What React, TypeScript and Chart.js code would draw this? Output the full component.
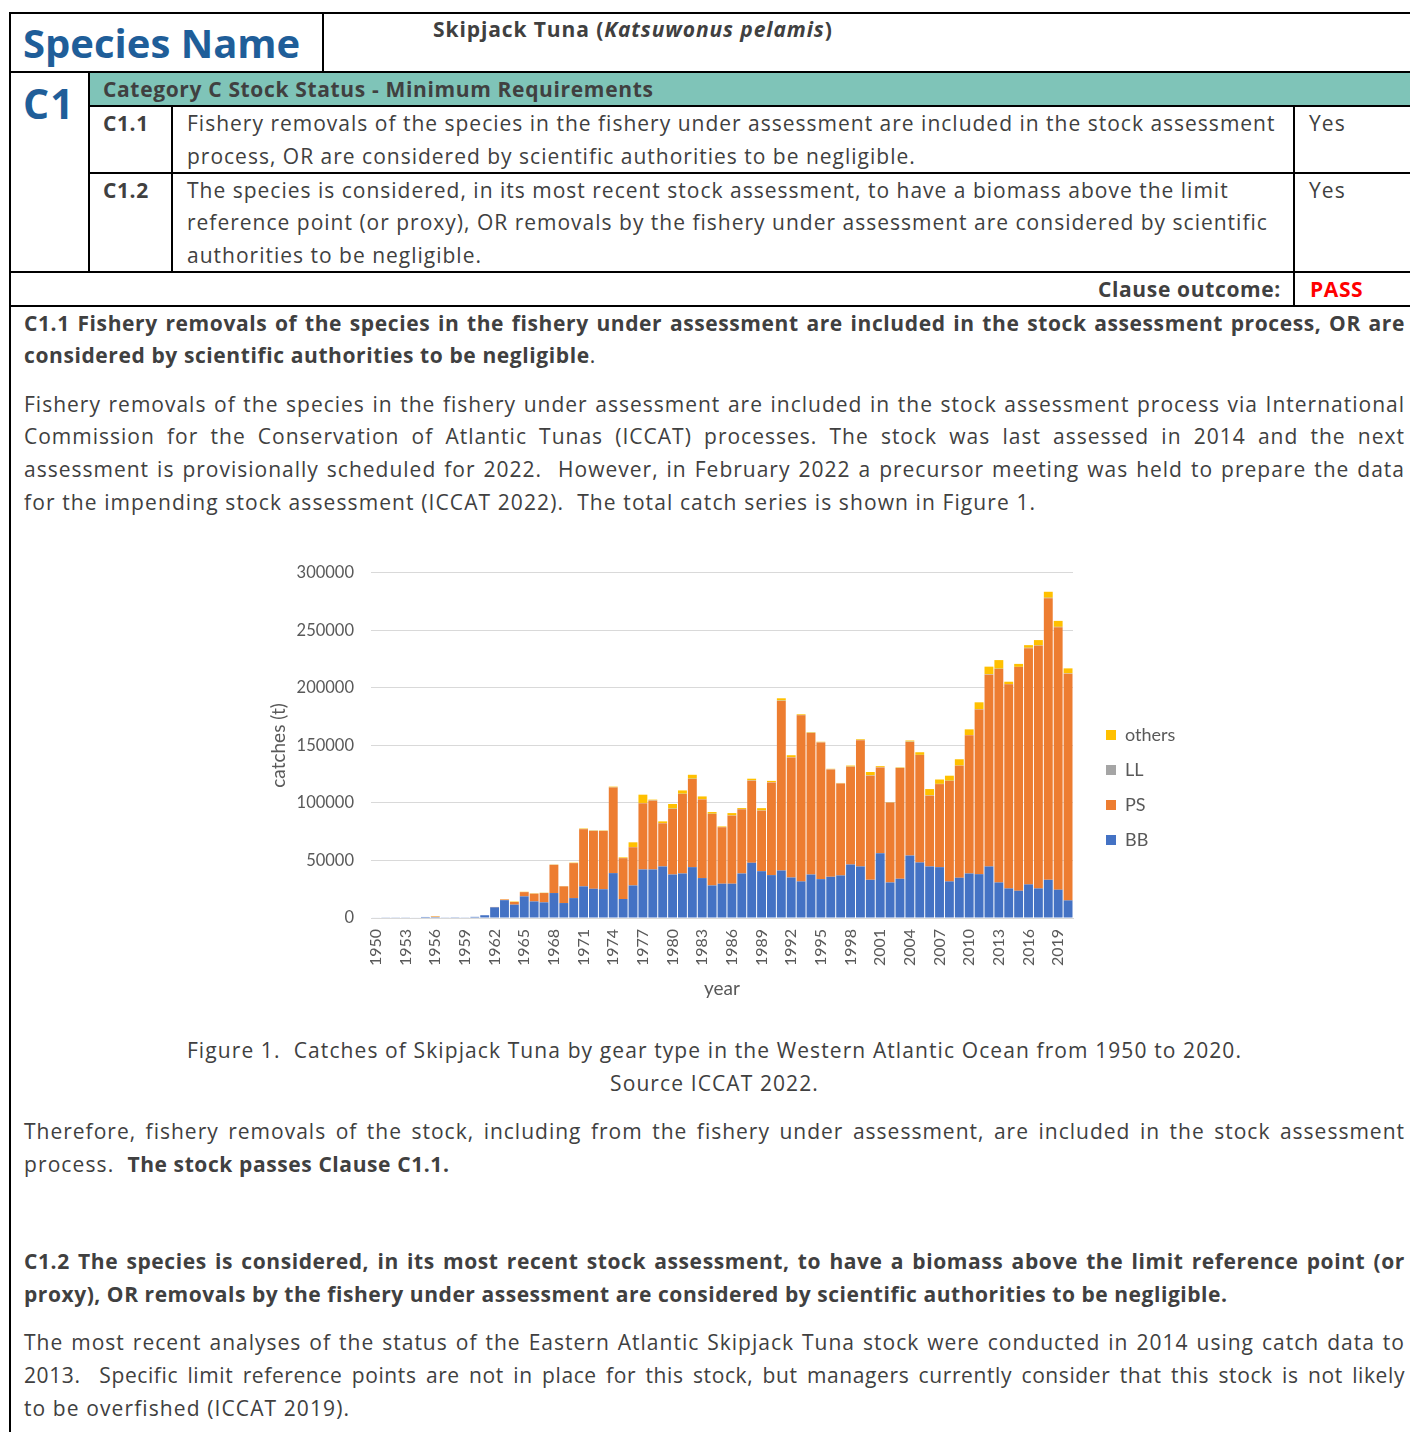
import React, { useEffect, useRef } from "react";
import { Chart, registerables } from "chart.js";

Chart.register(...registerables);

// ---------- chart data (tonnes) ----------
const years = [
  "1950","1951","1952","1953","1954","1955","1956","1957","1958","1959",
  "1960","1961","1962","1963","1964","1965","1966","1967","1968","1969",
  "1970","1971","1972","1973","1974","1975","1976","1977","1978","1979",
  "1980","1981","1982","1983","1984","1985","1986","1987","1988","1989",
  "1990","1991","1992","1993","1994","1995","1996","1997","1998","1999",
  "2000","2001","2002","2003","2004","2005","2006","2007","2008","2009",
  "2010","2011","2012","2013","2014","2015","2016","2017","2018","2019",
  "2020",
];

const bbCatch = [
  400, 300, 300, 300, 400, 900, 800, 300, 200, 300,
  1000, 2400, 9300, 15500, 11600, 18800, 14400, 13600, 21700, 13000,
  17300, 27500, 25400, 25000, 39000, 16500, 28300, 42200, 42200, 44800,
  37800, 38700, 44200, 34700, 28300, 29800, 29800, 38700, 48000, 40700,
  37300, 41300, 35200, 31800, 37800, 33800, 35800, 37000, 46500, 44800,
  33200, 56300, 30900, 34100, 54300, 48300, 44800, 44200, 31800, 35000,
  38700, 38100, 44800, 30900, 25700, 23700, 29200, 25700, 33200, 24600,
  15300,
];

const psCatch = [
  0, 0, 0, 0, 0, 0, 400, 0, 0, 0,
  0, 0, 300, 600, 2300, 3700, 6700, 8100, 24500, 14500,
  30400, 49700, 50300, 50700, 74400, 35500, 33200, 57500, 59800, 37500,
  57000, 69100, 76600, 68400, 62100, 49100, 59200, 55800, 71300, 52600,
  80600, 147400, 104400, 144400, 123100, 118800, 93400, 80000, 85000, 109800,
  90500, 74600, 69400, 96200, 98800, 93300, 61500, 72200, 87200, 97300,
  120200, 143100, 166700, 185500, 177400, 194400, 205400, 210900, 244800, 228200,
  197100,
];

const llCatch = [
  0, 0, 0, 0, 0, 0, 0, 0, 0, 0,
  0, 0, 0, 0, 0, 100, 100, 100, 100, 100,
  100, 200, 200, 100, 200, 100, 200, 300, 300, 200,
  300, 200, 300, 200, 200, 100, 200, 300, 300, 200,
  200, 300, 200, 300, 200, 200, 200, 100, 200, 200,
  300, 200, 200, 200, 300, 200, 300, 200, 300, 200,
  200, 300, 400, 300, 300, 200, 300, 300, 400, 300,
  300,
];

const otherCatch = [
  0, 0, 0, 0, 0, 0, 300, 0, 0, 0,
  0, 0, 0, 200, 400, 200, 300, 200, 200, 200,
  300, 400, 300, 300, 600, 600, 4100, 7200, 600, 1500,
  4000, 2900, 3400, 2400, 1500, 600, 2000, 800, 1500, 2000,
  1100, 2000, 1700, 600, 500, 400, 300, 300, 800, 600,
  2900, 900, 300, 400, 900, 2300, 5500, 3800, 4400, 5500,
  4900, 6000, 6600, 7500, 2000, 2600, 2300, 4700, 5200, 5200,
  4300,
];

const seriesNames = ["BB", "PS", "LL", "others"];
const seriesColors = ["#4472C4", "#ED7D31", "#A5A5A5", "#FFC000"];
const yMax = 300000;
const yStep = 50000;

const CHART_FONT = "Lato, 'Open Sans', sans-serif";
const AXIS_GREY = "#595959";

function CatchChart() {
  const ref = useRef<HTMLCanvasElement>(null);
  useEffect(() => {
    const values = [bbCatch, psCatch, llCatch, otherCatch];
    const chart = new Chart(ref.current as HTMLCanvasElement, {
      type: "bar",
      data: {
        labels: years,
        datasets: seriesNames.map((name, i) => ({
          label: name,
          data: values[i],
          backgroundColor: seriesColors[i],
          borderWidth: 0,
          stack: "catch",
          barPercentage: 0.9,
          categoryPercentage: 1,
        })),
      },
      options: {
        animation: false,
        responsive: true,
        maintainAspectRatio: false,
        layout: { padding: { top: 16, right: 6, left: 0, bottom: 0 } },
        plugins: {
          legend: {
            position: "right",
            reverse: true,
            maxWidth: 92,
            title: { display: true, text: "", font: { size: 5 }, padding: { top: 0, bottom: 3 } },
            labels: {
              boxWidth: 10,
              boxHeight: 10,
              padding: 17,
              color: AXIS_GREY,
              font: { family: CHART_FONT, size: 18 },
            },
          },
          tooltip: { enabled: false },
        },
        scales: {
          x: {
            stacked: true,
            grid: { display: false, drawTicks: false },
            border: { color: "#d9d9d9" },
            ticks: {
              autoSkip: false,
              minRotation: 90,
              maxRotation: 90,
              padding: 11,
              color: AXIS_GREY,
              font: { family: CHART_FONT, size: 16 },
              callback: (_v: any, i: number) => (i % 3 === 0 ? years[i] : ""),
            },
            title: {
              display: true,
              text: "year",
              color: AXIS_GREY,
              font: { family: CHART_FONT, size: 19 },
              padding: { top: 4, bottom: 4 },
            },
            afterFit: (s: any) => {
              s.height = 86;
            },
          },
          y: {
            stacked: true,
            min: 0,
            max: yMax,
            ticks: {
              stepSize: yStep,
              padding: 17,
              color: AXIS_GREY,
              font: { family: CHART_FONT, size: 16.5 },
              callback: (v: any) => String(v),
            },
            grid: { color: "#d9d9d9", drawTicks: false },
            border: { display: false },
            title: {
              display: true,
              text: "catches (t)",
              color: AXIS_GREY,
              font: { family: CHART_FONT, size: 19 },
              padding: { top: 5, bottom: 4 },
            },
            afterFit: (s: any) => {
              s.width = 109;
            },
          },
          yR: {
            position: "right",
            display: true,
            grid: { display: false, drawTicks: false },
            border: { display: false },
            ticks: { display: false },
            afterFit: (s: any) => {
              s.width = 16;
            },
          },
        },
      } as any,
    });
    return () => chart.destroy();
  }, []);
  return <canvas ref={ref} />;
}

// ---------- page ----------
const TEXT = "#404040";
const BLUE = "#1F5E99";
const FONT = "'Open Sans', Lato, sans-serif";
const FS = 21;

type TProps = {
  x: number;
  y: number;
  w?: number;
  size?: number;
  bold?: boolean;
  align?: "left" | "right" | "center";
  justify?: boolean;
  color?: string;
  ls?: number;
  children: React.ReactNode;
};

function T({ x, y, w, size = FS, bold = false, align = "left", justify = false, color = TEXT, ls, children }: TProps) {
  const lh = 33;
  const defLs = justify ? (bold ? 0.6 : 1.0) : bold ? 0.6 : 1.1;
  const style: React.CSSProperties = {
    position: "absolute",
    left: x,
    top: y - 18.5,
    width: w,
    height: lh,
    lineHeight: lh + "px",
    fontSize: size,
    fontWeight: bold ? 700 : 400,
    letterSpacing: ls !== undefined ? ls : defLs,
    color,
    whiteSpace: "nowrap",
    textAlign: justify ? "justify" : align,
    textAlignLast: justify ? "justify" : align,
    fontFamily: FONT,
  };
  return <div style={style}>{children}</div>;
}

function HL({ x1, x2, y }: { x1: number; x2: number; y: number }) {
  return <div style={{ position: "absolute", left: x1, top: y, width: x2 - x1, height: 2, background: "#000" }} />;
}
function VL({ x, y1, y2 }: { x: number; y1: number; y2: number }) {
  return <div style={{ position: "absolute", left: x, top: y1, width: 2, height: y2 - y1, background: "#000" }} />;
}

const BX = 24;
const BW = 1381;
const CELL_LS = 1.0;
const B = ({ children }: { children: React.ReactNode }) => (
  <b style={{ letterSpacing: 0.6 }}>{children}</b>
);

export default function App() {
  return (
    <div
      style={{
        position: "absolute",
        left: 0,
        top: 0,
        width: 1410,
        height: 1432,
        overflow: "hidden",
        background: "#fff",
        fontFamily: FONT,
      }}
    >
      {/* teal header band */}
      <div style={{ position: "absolute", left: 90, top: 73, width: 1330, height: 33, background: "#7FC4B8" }} />

      {/* table lines */}
      <HL x1={9} x2={1410} y={12} />
      <VL x={9} y1={12} y2={1432} />
      <VL x={322} y1={12} y2={72} />
      <HL x1={9} x2={1410} y={71} />
      <VL x={88} y1={71} y2={272} />
      <HL x1={88} x2={1410} y={105} />
      <VL x={171} y1={105} y2={272} />
      <VL x={1293} y1={105} y2={306} />
      <HL x1={88} x2={1410} y={172} />
      <HL x1={9} x2={1410} y={271} />
      <HL x1={9} x2={1410} y={305} />

      {/* table text */}
      <T x={23} y={44} size={40} bold color={BLUE} ls={0}>Species Name</T>
      <T x={433} y={31} bold ls={0.9}>
        Skipjack Tuna (<i>Katsuwonus pelamis</i>)
      </T>
      <T x={23} y={105} size={41} bold color={BLUE} ls={1}>C1</T>
      <T x={103} y={91} bold ls={0.65}>Category C Stock Status - Minimum Requirements</T>
      <T x={103} y={125} bold>C1.1</T>
      <T x={187} y={125} ls={CELL_LS}>Fishery removals of the species in the fishery under assessment are included in the stock assessment</T>
      <T x={187} y={158} ls={CELL_LS}>process, OR are considered by scientific authorities to be negligible.</T>
      <T x={1309} y={125}>Yes</T>
      <T x={103} y={192} bold>C1.2</T>
      <T x={187} y={192} ls={CELL_LS}>The species is considered, in its most recent stock assessment, to have a biomass above the limit</T>
      <T x={187} y={224} ls={CELL_LS}>reference point (or proxy), OR removals by the fishery under assessment are considered by scientific</T>
      <T x={187} y={257} ls={CELL_LS}>authorities to be negligible.</T>
      <T x={1309} y={192}>Yes</T>
      <T x={881} y={291} w={400} align="right" bold ls={0.65}>Clause outcome:</T>
      <T x={1310} y={291} bold color="#FF0000">PASS</T>

      {/* C1.1 section */}
      <T x={BX} y={325} w={BW} bold justify>
        C1.1 Fishery removals of the species in the fishery under assessment are included in the stock assessment process, OR are
      </T>
      <T x={BX} y={357}>
        <B>considered by scientific authorities to be negligible</B>.
      </T>
      <T x={BX} y={406} w={BW} justify>
        Fishery removals of the species in the fishery under assessment are included in the stock assessment process via International
      </T>
      <T x={BX} y={438} w={BW} justify>
        Commission for the Conservation of Atlantic Tunas (ICCAT) processes. The stock was last assessed in 2014 and the next
      </T>
      <T x={BX} y={471} w={BW} justify>
        assessment is provisionally scheduled for 2022.{"\u00a0 "}However, in February 2022 a precursor meeting was held to prepare the data
      </T>
      <T x={BX} y={504}>
        for the impending stock assessment (ICCAT 2022).{"\u00a0 "}The total catch series is shown in Figure 1.
      </T>

      {/* chart */}
      <div style={{ position: "absolute", left: 262, top: 546, width: 925, height: 458 }}>
        <CatchChart />
      </div>

      {/* caption */}
      <T x={BX} y={1052} w={BW} align="center">
        Figure 1.{"\u00a0 "}Catches of Skipjack Tuna by gear type in the Western Atlantic Ocean from 1950 to 2020.
      </T>
      <T x={BX} y={1085} w={BW} align="center">
        Source ICCAT 2022.
      </T>

      <T x={BX} y={1133} w={BW} justify>
        Therefore, fishery removals of the stock, including from the fishery under assessment, are included in the stock assessment
      </T>
      <T x={BX} y={1166}>
        process.{"\u00a0 "}<B>The stock passes Clause C1.1.</B>
      </T>

      {/* C1.2 section */}
      <T x={BX} y={1263} w={BW} bold justify>
        C1.2 The species is considered, in its most recent stock assessment, to have a biomass above the limit reference point (or
      </T>
      <T x={BX} y={1296} bold ls={0.55}>
        proxy), OR removals by the fishery under assessment are considered by scientific authorities to be negligible.
      </T>
      <T x={BX} y={1344} w={BW} justify>
        The most recent analyses of the status of the Eastern Atlantic Skipjack Tuna stock were conducted in 2014 using catch data to
      </T>
      <T x={BX} y={1377} w={BW} justify ls={0.6}>
        2013.{"\u00a0 "}Specific limit reference points are not in place for this stock, but managers currently consider that this stock is not likely
      </T>
      <T x={BX} y={1410}>to be overfished (ICCAT 2019).</T>
    </div>
  );
}
